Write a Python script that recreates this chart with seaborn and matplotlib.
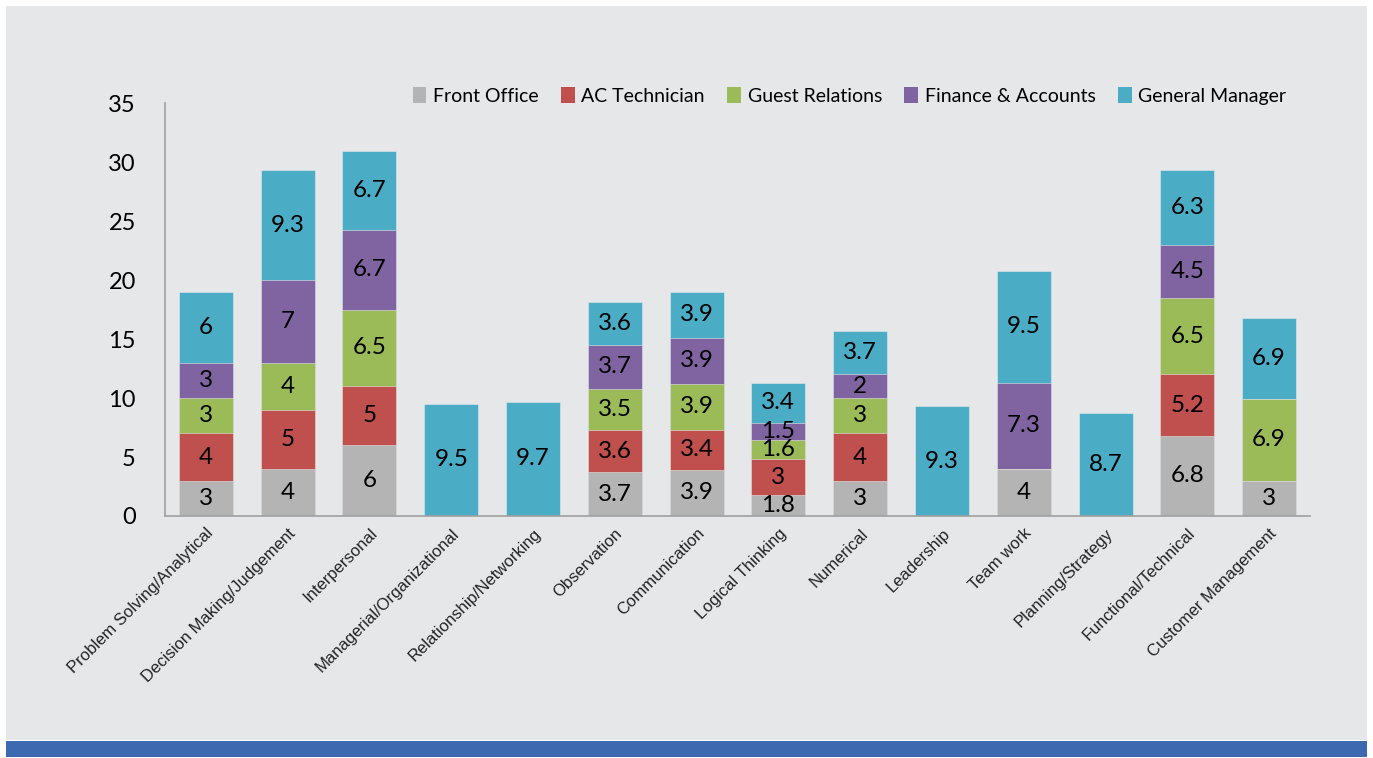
import numpy as np
import pandas as pd
import matplotlib
matplotlib.use("Agg")
import matplotlib.pyplot as plt
from matplotlib.patches import Rectangle
import seaborn as sns

categories = ["Problem Solving/Analytical", "Decision Making/Judgement", "Interpersonal",
              "Managerial/Organizational", "Relationship/Networking", "Observation",
              "Communication", "Logical Thinking", "Numerical", "Leadership", "Team work",
              "Planning/Strategy", "Functional/Technical", "Customer Management"]

front_office = [3, 4, 6, 0, 0, 3.7, 3.9, 1.8, 3, 0, 4, 0, 6.8, 3]
ac_technician = [4, 5, 5, 0, 0, 3.6, 3.4, 3, 4, 0, 0, 0, 5.2, 0]
guest_relations = [3, 4, 6.5, 0, 0, 3.5, 3.9, 1.6, 3, 0, 0, 0, 6.5, 6.9]
finance_accounts = [3, 7, 6.7, 0, 0, 3.7, 3.9, 1.5, 2, 0, 7.3, 0, 4.5, 0]
general_manager = [6, 9.3, 6.7, 9.5, 9.7, 3.6, 3.9, 3.4, 3.7, 9.3, 9.5, 8.7, 6.3, 6.9]

series = ["Front Office", "AC Technician", "Guest Relations", "Finance & Accounts", "General Manager"]
colors = ["#b4b4b4", "#c0504d", "#9bbb59", "#8064a2", "#4bacc6"]

sns.set_style("white")
plt.rcParams["font.family"] = ["Lato", "DejaVu Sans"]

df = pd.DataFrame({"category": categories,
                   "Front Office": front_office,
                   "AC Technician": ac_technician,
                   "Guest Relations": guest_relations,
                   "Finance & Accounts": finance_accounts,
                   "General Manager": general_manager})
cum = df[series].cumsum(axis=1)

fig = plt.figure(figsize=(13.73, 7.58), dpi=100, facecolor="white")
W, H = 1373, 758
fig.patches.append(Rectangle((6 / W, 1 - 740 / H), 1361 / W, 734 / H,
                             transform=fig.transFigure, facecolor="#e6e7e9",
                             edgecolor="none", zorder=-10))
fig.patches.append(Rectangle((6 / W, 1 - 757 / H), 1361 / W, 16 / H,
                             transform=fig.transFigure, facecolor="#3c69b0",
                             edgecolor="none", zorder=-10))

ax = fig.add_axes([165 / W, 1 - 516 / H, 1145 / W, 413 / H])
ax.set_facecolor("none")

# draw cumulative layers back to front so they look stacked
for i in range(len(series) - 1, -1, -1):
    sns.barplot(x=df["category"], y=cum[series[i]], color=colors[i], width=0.66,
                saturation=1, ax=ax, edgecolor="#e6e7e9", linewidth=0.4)

for j in range(len(categories)):
    base = 0
    for i, s in enumerate(series):
        v = df[s][j]
        if v > 0:
            ax.text(j, base + v / 2, f"{v:g}", ha="center", va="center",
                    fontsize=17.5, color="black")
        base += v

ax.set_xlim(-0.5, len(categories) - 0.5)
ax.set_ylim(0, 35)
ax.set_yticks(range(0, 36, 5))
ax.set_xlabel("")
ax.set_ylabel("")
ax.tick_params(axis="y", length=0, pad=21, labelsize=17, labelcolor="black")
ax.tick_params(axis="x", length=0, pad=7, labelsize=12, labelcolor="#222222")
plt.setp(ax.get_xticklabels(), rotation=45, ha="right", rotation_mode="anchor",
         family=["Liberation Sans", "DejaVu Sans"])

for side in ["top", "right"]:
    ax.spines[side].set_visible(False)
for side in ["left", "bottom"]:
    ax.spines[side].set_color("#a0a0a0")
    ax.spines[side].set_linewidth(1.2)

handles = [Rectangle((0, 0), 1, 1, facecolor=c, edgecolor="none") for c in colors]
fig.legend(handles, series, loc="center right", bbox_to_anchor=(1304 / W, 1 - 96 / H),
           ncol=5, frameon=False, fontsize=14, handlelength=0.7, handleheight=0.9,
           handletextpad=0.35, columnspacing=1.15, labelcolor="black")

fig.savefig("out.png", dpi=100, facecolor=fig.get_facecolor())
